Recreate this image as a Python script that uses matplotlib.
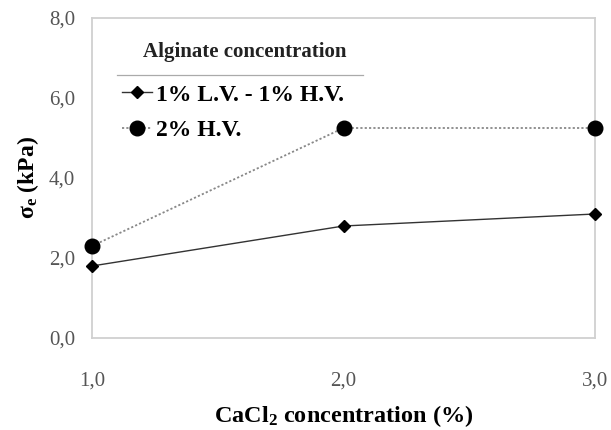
import matplotlib
matplotlib.use('Agg')
import matplotlib.pyplot as plt
from matplotlib.ticker import FuncFormatter

# values
cacl2 = [1.0, 2.0, 3.0]
lv_hv_1 = [1.80, 2.80, 3.10]
hv_2 = [2.30, 5.25, 5.25]
series_labels = ['1% L.V. - 1% H.V.', '2% H.V.']
legend_title = 'Alginate concentration'

plt.rcParams['font.family'] = ['Liberation Serif', 'DejaVu Serif']
plt.rcParams['mathtext.fontset'] = 'custom'
plt.rcParams['mathtext.rm'] = 'Liberation Serif:bold'
plt.rcParams['mathtext.it'] = 'Liberation Serif:bold'
plt.rcParams['mathtext.bf'] = 'Liberation Serif:bold'

W, H = 611, 430
fig = plt.figure(figsize=(W / 100, H / 100), dpi=100)
ax = fig.add_axes([92 / W, 1 - 338 / H, (595 - 92) / W, (338 - 18) / H])

l1, = ax.plot(cacl2, lv_hv_1, color='#333333', lw=1.0, marker='D', ms=6.5,
              mfc='black', mec='black', clip_on=False, zorder=3)
l2, = ax.plot(cacl2, hv_2, color='#888888', lw=1.3, ls=(0, (1.2, 1.2)), marker='o', ms=10.5,
              mfc='black', mec='black', clip_on=False, zorder=3)

ax.set_xlim(1.0, 3.0)
ax.set_ylim(0, 8)
ax.set_xticks([1.0, 2.0, 3.0])
ax.set_yticks([0, 2, 4, 6, 8])
comma = FuncFormatter(lambda v, p: f'{v:.1f}'.replace('.', ','))
ax.xaxis.set_major_formatter(comma)
ax.yaxis.set_major_formatter(comma)
ax.tick_params(length=0, labelsize=15, labelcolor='#555555')
ax.tick_params(axis='x', pad=24)
ax.tick_params(axis='y', pad=12)
for s in ax.spines.values():
    s.set_color('#d0d0d0')
    s.set_linewidth(1.3)

ax.set_xlabel(r'CaCl$_\mathbf{2}$ concentration (%)', fontsize=17.5, fontweight='bold', labelpad=9)
ax.set_ylabel(r'σ$_e$ (kPa)', fontsize=17, fontweight='bold', labelpad=6)

# legend: title, rule, entries
fig.text(245 / W, 1 - 52 / H, legend_title, ha='center', va='center',
         fontsize=15, fontweight='bold', color='#222222')
fig.add_artist(plt.Line2D([117 / W, 363 / W], [1 - 75 / H, 1 - 75 / H],
                          color='#aaaaaa', lw=0.9))
fig.legend([l1, l2], series_labels, loc='upper left',
           bbox_to_anchor=(122 / W, 1 - 84 / H), bbox_transform=fig.transFigure,
           frameon=False, prop={'weight': 'bold', 'size': 17},
           handlelength=1.25, handletextpad=0.2, labelspacing=0.6,
           borderpad=0, borderaxespad=0)

fig.savefig('out.png', dpi=100)
